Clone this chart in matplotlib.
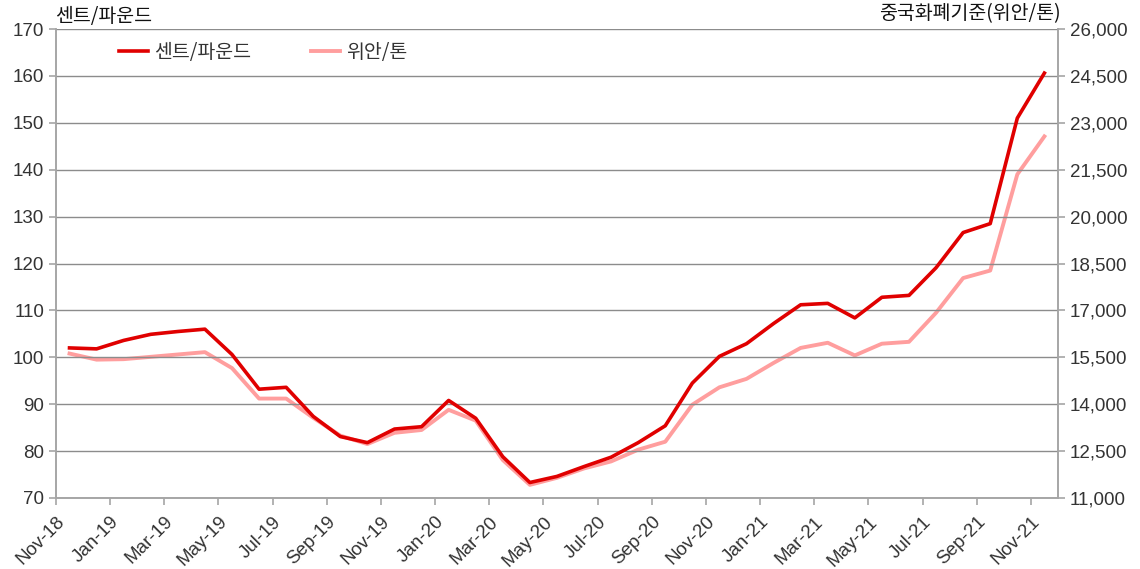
import matplotlib
matplotlib.use('Agg')
import matplotlib.pyplot as plt

plt.rcParams['font.family'] = ['Noto Sans CJK KR', 'DejaVu Sans']

# 월별 카테고리 (Nov-18 ~ Nov-21)
months = ['Nov-18', 'Dec-18', 'Jan-19', 'Feb-19', 'Mar-19', 'Apr-19', 'May-19', 'Jun-19',
          'Jul-19', 'Aug-19', 'Sep-19', 'Oct-19', 'Nov-19', 'Dec-19', 'Jan-20', 'Feb-20',
          'Mar-20', 'Apr-20', 'May-20', 'Jun-20', 'Jul-20', 'Aug-20', 'Sep-20', 'Oct-20',
          'Nov-20', 'Dec-20', 'Jan-21', 'Feb-21', 'Mar-21', 'Apr-21', 'May-21', 'Jun-21',
          'Jul-21', 'Aug-21', 'Sep-21', 'Oct-21', 'Nov-21']

# 센트/파운드 (좌축)
cents_lb = [102.0, 101.8, 103.6, 104.9, 105.5, 106.0, 100.6, 93.2,
            93.6, 87.4, 83.1, 81.8, 84.7, 85.2, 90.8, 87.0,
            78.8, 73.3, 74.6, 76.7, 78.7, 81.8, 85.4, 94.5,
            100.2, 102.9, 107.2, 111.2, 111.5, 108.4, 112.8, 113.2,
            119.1, 126.6, 128.5, 151.0, 160.6]

# 위안/톤 (우축)
yuan_ton = [15620, 15425, 15440, 15515, 15590, 15665, 15155, 14180,
            14180, 13565, 12995, 12725, 13085, 13175, 13820, 13475,
            12215, 11420, 11645, 11945, 12170, 12545, 12800, 13985,
            14540, 14810, 15320, 15800, 15965, 15560, 15935, 15995,
            16925, 18035, 18275, 21350, 22565]

left_ticks = list(range(70, 171, 10))
right_ticks = list(range(11000, 26001, 1500))

RED = '#E00000'
PINK = '#FF9E9E'
GRAY = '#A6A6A6'
TXT = '#333333'

fig = plt.figure(figsize=(11.4, 5.69), dpi=100)
ax = fig.add_axes([0.0491, 0.1248, 0.8789, 0.8242])
ax2 = ax.twinx()

x = list(range(len(months)))
l1, = ax.plot(x, cents_lb, color=RED, linewidth=2.6, label='센트/파운드', zorder=3)
l2, = ax2.plot(x, yuan_ton, color=PINK, linewidth=2.8, label='위안/톤', zorder=2)
ax.set_zorder(ax2.get_zorder() + 1)
ax.patch.set_visible(False)

ax.set_ylim(70, 170)
ax.set_yticks(left_ticks)
ax2.set_ylim(11000, 26000)
ax2.set_yticks(right_ticks)
ax2.set_yticklabels([f'{v:,}' for v in right_ticks])

ax.set_xlim(-0.5, len(months) - 0.5)
tick_pos = [i - 0.5 for i in range(0, len(months), 2)]
ax.set_xticks(tick_pos)
ax.set_xticklabels(months[::2], rotation=45, ha='right', rotation_mode='anchor')

ax.grid(axis='y', color='#8C8C8C', linewidth=1.0)
ax.set_axisbelow(True)

for a in (ax, ax2):
    a.spines['top'].set_visible(False)
    for s in ('left', 'right', 'bottom'):
        a.spines[s].set_color(GRAY)
        a.spines[s].set_linewidth(1.2)
    a.tick_params(colors=GRAY, labelcolor=TXT, labelsize=13.5, length=5, width=1.2)
ax.tick_params(axis='x', pad=6)
for lbl in ax.get_yticklabels() + ax2.get_yticklabels() + ax.get_xticklabels():
    lbl.set_family(['Liberation Sans', 'DejaVu Sans'])

fig.text(0.048, 0.953, '센트/파운드', fontsize=14, color='#111111', ha='left', va='bottom')
fig.text(0.930, 0.958, '중국화폐기준(위안/톤)', fontsize=14, color='#111111', ha='right', va='bottom')

ax.legend(handles=[l1, l2], loc='upper left', bbox_to_anchor=(0.045, 1.01), ncol=2,
          frameon=False, fontsize=14, handlelength=1.5, handletextpad=0.3,
          columnspacing=3.1, labelcolor='#333333')

plt.savefig('out.png', dpi=100)
